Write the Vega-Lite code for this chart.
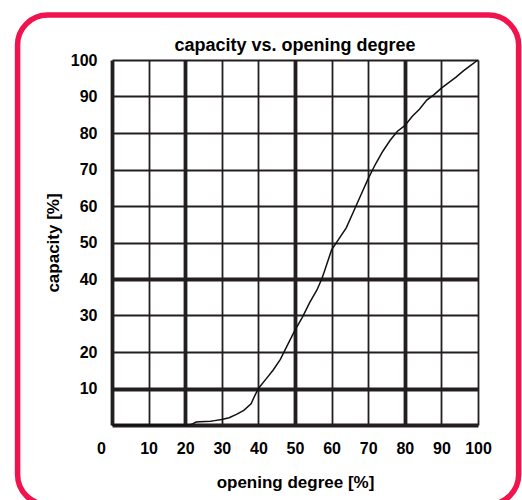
{
  "$schema": "https://vega.github.io/schema/vega-lite/v6.json",
  "width": 366,
  "height": 365,
  "autosize": {"type": "none"},
  "padding": {"left": 112, "top": 60, "right": 44, "bottom": 75},
  "background": "white",
  "config": {"view": {"stroke": null}, "font": "Liberation Sans"},
  "title": {"text": "capacity vs. opening degree", "fontSize": 18, "fontWeight": "bold", "font": "Liberation Sans", "color": "black", "offset": -57, "anchor": "middle", "frame": "group", "baseline": "alphabetic"},
  "datasets": {
    "frame": [{"x1": -25.8, "x2": 111.1, "y1": -21.8, "y2": 112.3}],
    "curve": [
      {"x": 0, "y": 0}, {"x": 21, "y": 0}, {"x": 22, "y": 0.3}, {"x": 23, "y": 0.8}, {"x": 24, "y": 0.9},
      {"x": 27, "y": 1.0}, {"x": 28, "y": 1.2}, {"x": 30, "y": 1.5}, {"x": 32, "y": 2.0}, {"x": 34, "y": 2.9},
      {"x": 36, "y": 4.0}, {"x": 38, "y": 5.8}, {"x": 39, "y": 8.0}, {"x": 40, "y": 10.0}, {"x": 42, "y": 12.5},
      {"x": 44, "y": 15.0}, {"x": 46, "y": 18.0}, {"x": 48, "y": 22.0}, {"x": 50, "y": 26.0}, {"x": 52, "y": 29.5},
      {"x": 54, "y": 33.5}, {"x": 56, "y": 37.0}, {"x": 57.3, "y": 40.0}, {"x": 58, "y": 42.0}, {"x": 60, "y": 48.0},
      {"x": 62, "y": 51.0}, {"x": 64, "y": 54.0}, {"x": 66, "y": 58.5}, {"x": 68, "y": 63.0}, {"x": 70, "y": 67.5},
      {"x": 72, "y": 71.5}, {"x": 74, "y": 75.0}, {"x": 76, "y": 78.0}, {"x": 78, "y": 80.5}, {"x": 80, "y": 82.0},
      {"x": 82, "y": 84.5}, {"x": 84, "y": 86.5}, {"x": 86, "y": 89.0}, {"x": 88, "y": 90.5}, {"x": 90, "y": 92.3},
      {"x": 92, "y": 93.8}, {"x": 94, "y": 95.3}, {"x": 96, "y": 97.0}, {"x": 98, "y": 98.5}, {"x": 100, "y": 100}
    ]
  },
  "layer": [
    {
      "data": {"name": "frame"},
      "mark": {"type": "rect", "filled": false, "stroke": "#f0134d", "strokeWidth": 5.5, "cornerRadius": 30, "clip": false},
      "encoding": {
        "x": {
          "field": "x1", "type": "quantitative", "title": "opening degree [%]",
          "scale": {"domain": [0, 100], "nice": false},
          "axis": {
            "values": [0, 10, 20, 30, 40, 50, 60, 70, 80, 90, 100],
            "grid": true, "gridColor": "#231f20", "gridOpacity": 1,
            "gridWidth": {"condition": {"test": "datum.value == 0 || datum.value == 20 || datum.value == 50 || datum.value == 80", "value": 3.8}, "value": 1.8},
            "ticks": false, "domain": false,
            "labelFont": "Liberation Sans", "labelFontSize": 16, "labelFontWeight": "bold", "labelColor": "black",
            "labelPadding": 15, "labelFlush": false, "labelOverlap": false,
            "labelOffset": {"condition": {"test": "datum.value == 0", "value": -11}, "value": 0},
            "titleFont": "Liberation Sans", "titleFontSize": 17, "titleFontWeight": "bold", "titleColor": "black", "titlePadding": 18
          }
        },
        "x2": {"field": "x2"},
        "y": {
          "field": "y1", "type": "quantitative", "title": "capacity [%]",
          "scale": {"domain": [0, 100], "nice": false},
          "axis": {
            "values": [0, 10, 20, 30, 40, 50, 60, 70, 80, 90, 100],
            "labelExpr": "datum.value == 0 ? '' : datum.label",
            "grid": true, "gridColor": "#231f20", "gridOpacity": 1,
            "gridWidth": {"condition": {"test": "datum.value == 0 || datum.value == 10 || datum.value == 40", "value": 3.8}, "value": 1.8},
            "ticks": false, "domain": false,
            "labelFont": "Liberation Sans", "labelFontSize": 16, "labelFontWeight": "bold", "labelColor": "black",
            "labelPadding": 15, "labelFlush": false, "labelOverlap": false,
            "titleFont": "Liberation Sans", "titleFontSize": 17, "titleFontWeight": "bold", "titleColor": "black", "titlePadding": 8
          }
        },
        "y2": {"field": "y2"}
      }
    },
    {
      "data": {"name": "curve"},
      "mark": {"type": "line", "color": "#111111", "strokeWidth": 1.5},
      "encoding": {
        "x": {
          "field": "x", "type": "quantitative", "title": "opening degree [%]",
          "scale": {"domain": [0, 100], "nice": false},
          "axis": {
            "values": [0, 10, 20, 30, 40, 50, 60, 70, 80, 90, 100],
            "grid": true, "gridColor": "#231f20", "gridOpacity": 1,
            "gridWidth": {"condition": {"test": "datum.value == 0 || datum.value == 20 || datum.value == 50 || datum.value == 80", "value": 3.8}, "value": 1.8},
            "ticks": false, "domain": false,
            "labelFont": "Liberation Sans", "labelFontSize": 16, "labelFontWeight": "bold", "labelColor": "black",
            "labelPadding": 15, "labelFlush": false, "labelOverlap": false,
            "labelOffset": {"condition": {"test": "datum.value == 0", "value": -11}, "value": 0},
            "titleFont": "Liberation Sans", "titleFontSize": 17, "titleFontWeight": "bold", "titleColor": "black", "titlePadding": 18
          }
        },
        "y": {
          "field": "y", "type": "quantitative", "title": "capacity [%]",
          "scale": {"domain": [0, 100], "nice": false},
          "axis": {
            "values": [0, 10, 20, 30, 40, 50, 60, 70, 80, 90, 100],
            "labelExpr": "datum.value == 0 ? '' : datum.label",
            "grid": true, "gridColor": "#231f20", "gridOpacity": 1,
            "gridWidth": {"condition": {"test": "datum.value == 0 || datum.value == 10 || datum.value == 40", "value": 3.8}, "value": 1.8},
            "ticks": false, "domain": false,
            "labelFont": "Liberation Sans", "labelFontSize": 16, "labelFontWeight": "bold", "labelColor": "black",
            "labelPadding": 15, "labelFlush": false, "labelOverlap": false,
            "titleFont": "Liberation Sans", "titleFontSize": 17, "titleFontWeight": "bold", "titleColor": "black", "titlePadding": 8
          }
        }
      }
    }
  ]
}
